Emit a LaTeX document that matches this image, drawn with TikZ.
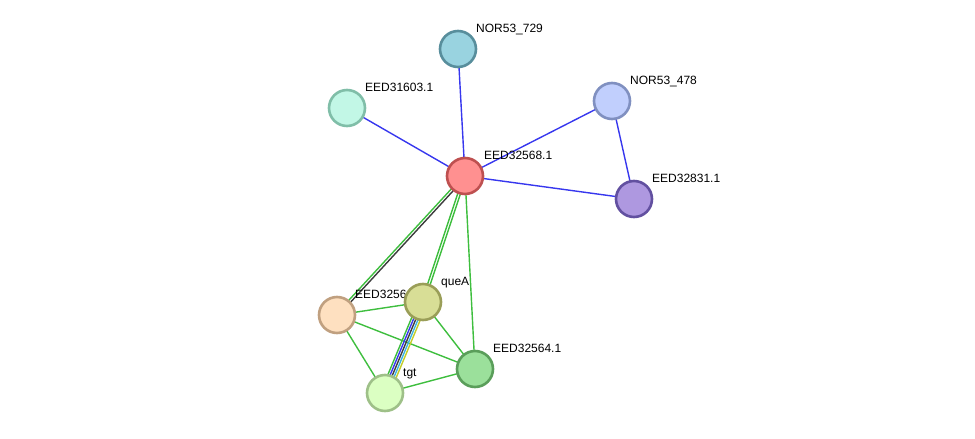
\documentclass[tikz,border=0pt]{standalone}
\usepackage{fontspec}
\setmainfont{Liberation Sans}
\usetikzlibrary{calc,backgrounds}
\definecolor{eg}{RGB}{62,190,62}
\definecolor{eb}{RGB}{55,55,238}
\definecolor{ed}{RGB}{60,60,60}
\definecolor{ec}{RGB}{60,180,225}
\definecolor{ey}{RGB}{195,205,40}
\definecolor{f729}{RGB}{153,211,224}\definecolor{s729}{RGB}{88,142,156}
\definecolor{f603}{RGB}{194,247,230}\definecolor{s603}{RGB}{128,190,168}
\definecolor{f478}{RGB}{193,207,253}\definecolor{s478}{RGB}{128,144,192}
\definecolor{f568}{RGB}{255,144,144}\definecolor{s568}{RGB}{190,80,80}
\definecolor{f831}{RGB}{174,152,224}\definecolor{s831}{RGB}{98,80,160}
\definecolor{f563}{RGB}{254,224,192}\definecolor{s563}{RGB}{192,160,128}
\definecolor{fque}{RGB}{216,222,150}\definecolor{sque}{RGB}{154,158,88}
\definecolor{f564}{RGB}{155,224,155}\definecolor{s564}{RGB}{90,158,90}
\definecolor{ftgt}{RGB}{219,255,194}\definecolor{stgt}{RGB}{158,192,136}
\tikzset{
  x=1pt,y=-1pt,
  prot/.style={circle,minimum size=36pt,inner sep=0pt,line width=2.6pt},
  lbl/.style={anchor=base west,inner sep=0pt,font=\fontsize{12}{14}\selectfont},
  edge/.style={line width=1.4pt}
}
\newcommand{\pline}[4]{\draw[edge,#4] ($(#1)!#3!90:(#2)$) -- ($(#2)!#3!-90:(#1)$);}
\begin{document}
\begin{tikzpicture}
\useasboundingbox (0,0) rectangle (975,439);
\node[prot,fill=f729,draw=s729] (n729) at (458,49) {};
\node[lbl] (l729) at (476,32) {NOR53\_729};
\node[prot,fill=f603,draw=s603] (n603) at (347,108) {};
\node[lbl] (l603) at (365,91) {EED31603.1};
\node[prot,fill=f478,draw=s478] (n478) at (612,101) {};
\node[lbl] (l478) at (630,84) {NOR53\_478};
\node[prot,fill=f568,draw=s568] (n568) at (465,176) {};
\node[lbl] (l568) at (484,159) {EED32568.1};
\node[prot,fill=f831,draw=s831] (n831) at (634,199) {};
\node[lbl] (l831) at (652,182) {EED32831.1};
\node[prot,fill=f563,draw=s563] (n563) at (337,315) {};
\node[lbl] (l563) at (355,298) {EED3256};
\node[prot,fill=fque,draw=sque] (nque) at (423,302) {};
\node[lbl] (lque) at (441,285) {queA};
\node[prot,fill=f564,draw=s564] (n564) at (475,369) {};
\node[lbl] (l564) at (493,352) {EED32564.1};
\node[prot,fill=ftgt,draw=stgt] (ntgt) at (385,393) {};
\node[lbl] (ltgt) at (403,376) {tgt};
\begin{pgfonlayer}{background}
\draw[edge,eb] (n568.center) -- (n729.center);
\draw[edge,eb] (n568.center) -- (n603.center);
\draw[edge,eb] (n568.center) -- (n478.center);
\draw[edge,eb] (n568.center) -- (n831.center);
\draw[edge,eb] (n478.center) -- (n831.center);
\pline{n568.center}{n563.center}{-1.3pt}{eg}
\pline{n568.center}{n563.center}{1.3pt}{ed}
\pline{n568.center}{nque.center}{-1.3pt}{eg}
\pline{n568.center}{nque.center}{1.3pt}{eg}
\draw[edge,eg] (n568.center) -- (n564.center);
\draw[edge,eg] (n563.center) -- (nque.center);
\draw[edge,eg] (n563.center) -- (ntgt.center);
\draw[edge,eg] (n563.center) -- (n564.center);
\draw[edge,eg] (nque.center) -- (n564.center);
\draw[edge,eg] (ntgt.center) -- (n564.center);
\pline{nque.center}{ntgt.center}{-4.4pt}{eg}
\pline{nque.center}{ntgt.center}{-2.2pt}{eb}
\pline{nque.center}{ntgt.center}{0pt}{ed}
\pline{nque.center}{ntgt.center}{2.2pt}{ec}
\pline{nque.center}{ntgt.center}{4.4pt}{ey}
\end{pgfonlayer}
\end{tikzpicture}
\end{document}
